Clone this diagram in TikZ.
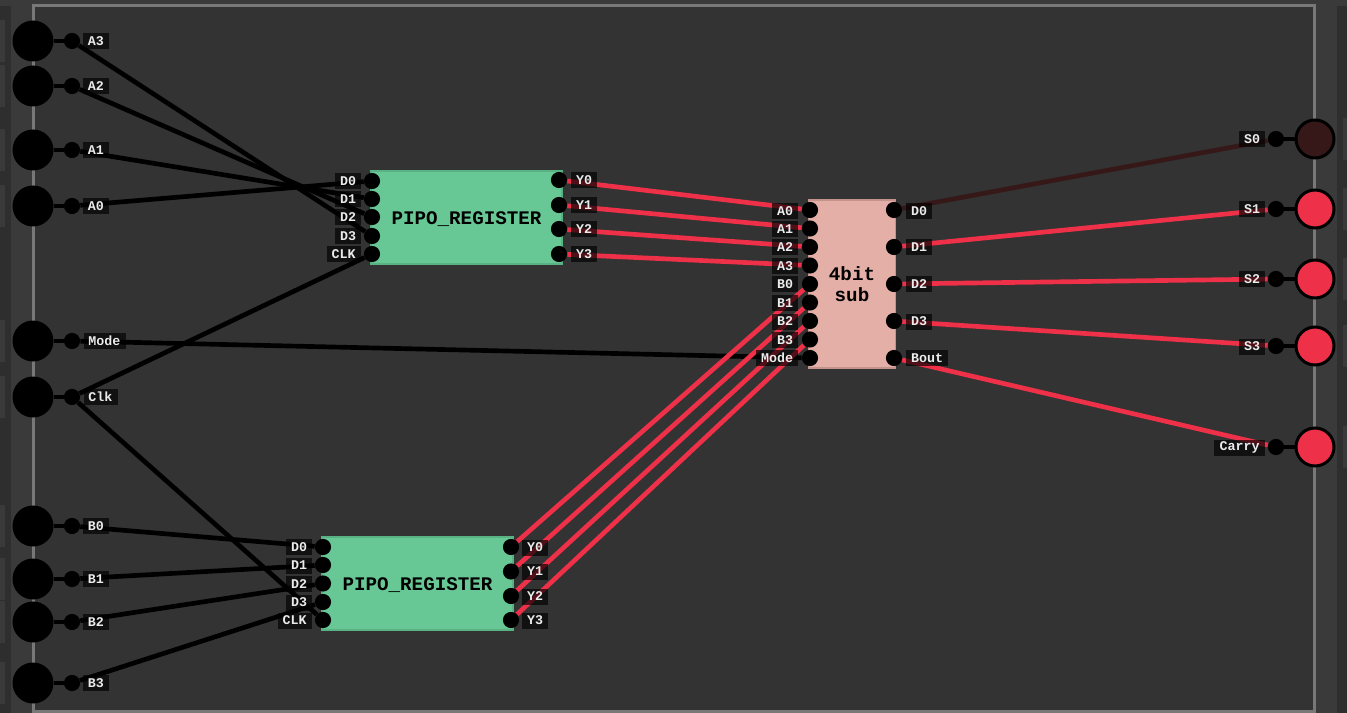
\documentclass[tikz,border=0pt]{standalone}
\usepackage{fontspec}
\setmonofont{Liberation Mono}
\usetikzlibrary{backgrounds}
\definecolor{panel}{HTML}{333333}
\definecolor{margin}{HTML}{3A3A3A}
\definecolor{strip}{HTML}{2E2E2E}
\definecolor{tab}{HTML}{3A3A3A}
\definecolor{frame}{HTML}{787878}
\definecolor{wireon}{HTML}{EE3048}
\definecolor{wireoff}{HTML}{361819}
\definecolor{regcolor}{HTML}{68C895}
\definecolor{regedge}{HTML}{58B283}
\definecolor{subcolor}{HTML}{E3AFA6}
\definecolor{subedge}{HTML}{C4948C}
\tikzset{
    pin/.style={circle,fill=black,inner sep=0pt,minimum size=12.1},
    inport/.style={circle,fill=black,inner sep=0pt,minimum size=30.75},
    outport/.style={circle,draw=black,line width=2.25,inner sep=0pt,minimum size=28.5},
    tag/.style={fill=black,fill opacity=0.66,text opacity=1,text=white!92!black,inner sep=0pt,
        minimum height=12,font=\ttfamily\bfseries\fontsize{10}{10}\selectfont},
    tagtwo/.style={tag,minimum width=19.5},
    tagthree/.style={tag,minimum width=25.5},
    tagfour/.style={tag,minimum width=31.5},
    tagfive/.style={tag,minimum width=38.25},
    chip/.style={inner sep=0pt,line width=1.1,align=center,text=black,
        font=\ttfamily\bfseries\fontsize{14.4}{15.5}\selectfont},
    regbox/.style={chip,fill=regcolor,draw=regedge,minimum width=143,minimum height=70,
        text height=13.8pt,text depth=3pt},
    subbox/.style={chip,fill=subcolor,draw=subedge,minimum width=65,minimum height=126},
    wire/.style={line width=3.5,black},
    wirered/.style={line width=3.5,wireon},
    wiredark/.style={line width=3.5,wireoff},
    stub/.style={line width=2.6,black}
}
\begin{document}
\begin{tikzpicture}[x=0.75pt,y=-0.75pt]
    \useasboundingbox (0,0) rectangle (1347,713);

    % chips
    \node[regbox] (regtop) at (466.5,217.5) {PIPO\_REGISTER};
    \node[regbox] (regbot) at (417.5,583.5) {PIPO\_REGISTER};
    \node[subbox] (sub) at (852,284) {4bit\\sub};

    % inputs
    \node[inport] (inA3) at (33,41) {};
    \node[inport] (inA2) at (33,86) {};
    \node[inport] (inA1) at (33,150) {};
    \node[inport] (inA0) at (33,206) {};
    \node[inport] (inMode) at (33,341) {};
    \node[inport] (inClk) at (33,397) {};
    \node[inport] (inB0) at (33,526) {};
    \node[inport] (inB1) at (33,579) {};
    \node[inport] (inB2) at (33,622) {};
    \node[inport] (inB3) at (33,683) {};
    \node[pin] (pA3) at (72,41) {};
    \node[pin] (pA2) at (72,86) {};
    \node[pin] (pA1) at (72,150) {};
    \node[pin] (pA0) at (72,206) {};
    \node[pin] (pMode) at (72,341) {};
    \node[pin] (pClk) at (72,397) {};
    \node[pin] (pB0) at (72,526) {};
    \node[pin] (pB1) at (72,579) {};
    \node[pin] (pB2) at (72,622) {};
    \node[pin] (pB3) at (72,683) {};
    \node[tagtwo] (lA3) at (96,41) {A3};
    \node[tagtwo] (lA2) at (96,86) {A2};
    \node[tagtwo] (lA1) at (96,150) {A1};
    \node[tagtwo] (lA0) at (96,206) {A0};
    \node[tagfour] (lMode) at (104.5,341) {Mode};
    \node[tagthree] (lClk) at (100.5,397) {Clk};
    \node[tagtwo] (lB0) at (96,526) {B0};
    \node[tagtwo] (lB1) at (96,579) {B1};
    \node[tagtwo] (lB2) at (96,622) {B2};
    \node[tagtwo] (lB3) at (96,683) {B3};

    % upper register
    \node[pin] (tD0) at (372,181) {};
    \node[pin] (tD1) at (372,199) {};
    \node[pin] (tD2) at (372,217) {};
    \node[pin] (tD3) at (372,236) {};
    \node[pin] (tCLK) at (372,254) {};
    \node[pin] (tY0) at (559,180) {};
    \node[pin] (tY1) at (559,205) {};
    \node[pin] (tY2) at (559,229) {};
    \node[pin] (tY3) at (559,254) {};
    \node[tagtwo] (ltD0) at (348,181) {D0};
    \node[tagtwo] (ltD1) at (348,199) {D1};
    \node[tagtwo] (ltD2) at (348,217.5) {D2};
    \node[tagtwo] (ltD3) at (348,236) {D3};
    \node[tagthree] (ltCLK) at (343.5,254) {CLK};
    \node[tagtwo] (ltY0) at (584,180.5) {Y0};
    \node[tagtwo] (ltY1) at (584,205) {Y1};
    \node[tagtwo] (ltY2) at (584,229.5) {Y2};
    \node[tagtwo] (ltY3) at (584,254) {Y3};

    % lower register
    \node[pin] (bD0) at (323,547) {};
    \node[pin] (bD1) at (323,565) {};
    \node[pin] (bD2) at (323,583.5) {};
    \node[pin] (bD3) at (323,602) {};
    \node[pin] (bCLK) at (323,620) {};
    \node[pin] (bY0) at (511,547) {};
    \node[pin] (bY1) at (511,571.5) {};
    \node[pin] (bY2) at (511,596) {};
    \node[pin] (bY3) at (511,620) {};
    \node[tagtwo] (lbD0) at (299,547) {D0};
    \node[tagtwo] (lbD1) at (299,565.5) {D1};
    \node[tagtwo] (lbD2) at (299,584) {D2};
    \node[tagtwo] (lbD3) at (299,602.5) {D3};
    \node[tagthree] (lbCLK) at (294.5,620.5) {CLK};
    \node[tagtwo] (lbY0) at (535,547.5) {Y0};
    \node[tagtwo] (lbY1) at (535,571.5) {Y1};
    \node[tagtwo] (lbY2) at (535,596.5) {Y2};
    \node[tagtwo] (lbY3) at (535,620.5) {Y3};

    % subtractor
    \node[pin] (sA0) at (810,210) {};
    \node[pin] (sA1) at (810,228.5) {};
    \node[pin] (sA2) at (810,247) {};
    \node[pin] (sA3) at (810,265.5) {};
    \node[pin] (sB0) at (810,284) {};
    \node[pin] (sB1) at (810,302.5) {};
    \node[pin] (sB2) at (810,321) {};
    \node[pin] (sB3) at (810,339.5) {};
    \node[pin] (sMode) at (810,358) {};
    \node[pin] (sD0) at (894,210) {};
    \node[pin] (sD1) at (894,247) {};
    \node[pin] (sD2) at (894,284) {};
    \node[pin] (sD3) at (894,321) {};
    \node[pin] (sBout) at (894,358) {};
    \node[tagtwo] (lsA0) at (785,211) {A0};
    \node[tagtwo] (lsA1) at (785,229) {A1};
    \node[tagtwo] (lsA2) at (785,247.5) {A2};
    \node[tagtwo] (lsA3) at (785,266) {A3};
    \node[tagtwo] (lsB0) at (785,284.5) {B0};
    \node[tagtwo] (lsB1) at (785,303) {B1};
    \node[tagtwo] (lsB2) at (785,321.5) {B2};
    \node[tagtwo] (lsB3) at (785,340) {B3};
    \node[tagfour] (lsMode) at (777,358) {Mode};
    \node[tagtwo] (lsD0) at (919,211) {D0};
    \node[tagtwo] (lsD1) at (919,247.5) {D1};
    \node[tagtwo] (lsD2) at (919,284.5) {D2};
    \node[tagtwo] (lsD3) at (919,321.5) {D3};
    \node[tagfour] (lsBout) at (927,358) {Bout};

    % outputs
    \node[outport,fill=wireoff] (outS0) at (1315,139) {};
    \node[outport,fill=wireon] (outS1) at (1315,209) {};
    \node[outport,fill=wireon] (outS2) at (1315,279) {};
    \node[outport,fill=wireon] (outS3) at (1315,346) {};
    \node[outport,fill=wireon] (outCarry) at (1315,447) {};
    \node[pin] (pS0) at (1276,139) {};
    \node[pin] (pS1) at (1276,209) {};
    \node[pin] (pS2) at (1276,279) {};
    \node[pin] (pS3) at (1276,346) {};
    \node[pin] (pCarry) at (1276,447) {};
    \node[tagtwo] (lS0) at (1252,139.5) {S0};
    \node[tagtwo] (lS1) at (1252,209.5) {S1};
    \node[tagtwo] (lS2) at (1252,279.5) {S2};
    \node[tagtwo] (lS3) at (1252,346.5) {S3};
    \node[tagfive] (lCarry) at (1239.5,447.5) {Carry};

    \begin{pgfonlayer}{background}
        % panel
        \fill[margin] (0,0) rectangle (1347,713);
        \fill[strip] (0,6) rectangle (11,713);
        \fill[strip] (1337,6) rectangle (1347,713);
        \foreach \y in {41,86,150,206,341,397,526,579,622,683}
            \fill[tab] (0,\y-21) rectangle (5,\y+21);
        \foreach \y in {139,209,279,346,447}
            \fill[tab] (1343,\y-21) rectangle (1347,\y+21);
        \fill[panel] (33,5) rectangle (1315,711);
        \draw[frame,line width=2.25] (33,713.5) -- (33,5.5) -- (1314.5,5.5) -- (1314.5,711) -- (33,711);

        % stubs
        \draw[stub] (inA3) -- (pA3);
        \draw[stub] (inA2) -- (pA2);
        \draw[stub] (inA1) -- (pA1);
        \draw[stub] (inA0) -- (pA0);
        \draw[stub] (inMode) -- (pMode);
        \draw[stub] (inClk) -- (pClk);
        \draw[stub] (inB0) -- (pB0);
        \draw[stub] (inB1) -- (pB1);
        \draw[stub] (inB2) -- (pB2);
        \draw[stub] (inB3) -- (pB3);
        \draw[stub] (outS0) -- (pS0);
        \draw[stub] (outS1) -- (pS1);
        \draw[stub] (outS2) -- (pS2);
        \draw[stub] (outS3) -- (pS3);
        \draw[stub] (outCarry) -- (pCarry);

        % wires
        \draw[wire] (pA3) -- (tD3);
        \draw[wire] (pA2) -- (tD2);
        \draw[wire] (pA1) -- (tD1);
        \draw[wire] (pA0) -- (tD0);
        \draw[wire] (pClk) -- (tCLK);
        \draw[wire] (pClk) -- (bCLK);
        \draw[wire] (pMode) -- (sMode);
        \draw[wire] (pB0) -- (bD0);
        \draw[wire] (pB1) -- (bD1);
        \draw[wire] (pB2) -- (bD2);
        \draw[wire] (pB3) -- (bD3);
        \draw[wirered] (tY0) -- (sA0);
        \draw[wirered] (tY1) -- (sA1);
        \draw[wirered] (tY2) -- (sA2);
        \draw[wirered] (tY3) -- (sA3);
        \draw[wirered] (bY0) -- (sB0);
        \draw[wirered] (bY1) -- (sB1);
        \draw[wirered] (bY2) -- (sB2);
        \draw[wirered] (bY3) -- (sB3);
        \draw[wiredark] (sD0) -- (pS0);
        \draw[wirered] (sD1) -- (pS1);
        \draw[wirered] (sD2) -- (pS2);
        \draw[wirered] (sD3) -- (pS3);
        \draw[wirered] (sBout) -- (pCarry);
    \end{pgfonlayer}
\end{tikzpicture}
\end{document}
